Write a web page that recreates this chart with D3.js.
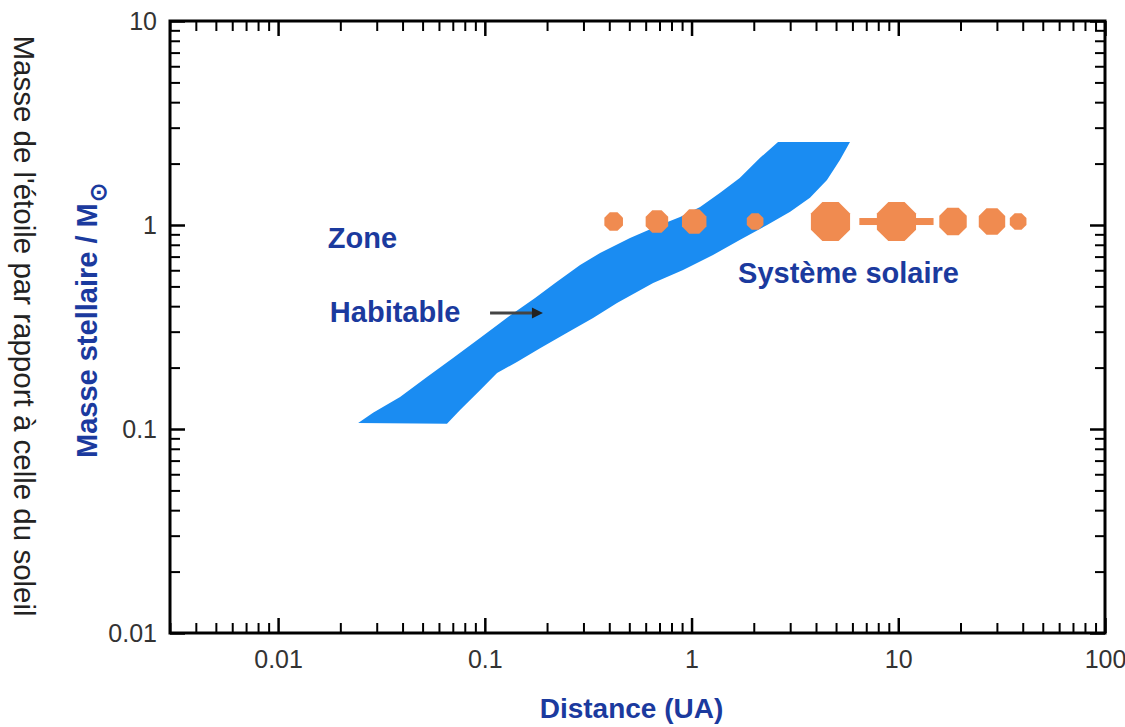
<!DOCTYPE html>
<html><head><meta charset="utf-8">
<script src="https://cdn.jsdelivr.net/npm/d3@7"></script>
<style>body{margin:0;background:#fff}</style>
</head><body><svg id="c" width="1125" height="727"></svg>
<script>
// ---- data ----
const xMajor = [0.01, 0.1, 1, 10, 100];
const xTickLabels = ["0.01", "0.1", "1", "10", "100"];
const yMajor = [0.01, 0.1, 1, 10];
const yTickLabels = ["0.01", "0.1", "1", "10"];

const planetNames = ["Mercure", "Vénus", "Terre", "Mars", "Jupiter", "Saturne", "Uranus", "Neptune", "Pluton"];
const planetDist = [0.42, 0.68, 1.03, 2.03, 4.7, 9.8, 18.4, 28.4, 38];
const planetMass = [1.04, 1.04, 1.04, 1.04, 1.04, 1.04, 1.04, 1.04, 1.04];
const planetSize = [19, 23, 25, 17, 40, 40, 28, 27, 17];

// habitable zone: inner (upper-left) boundary, bottom to top
const hzInnerDist = [0.0244, 0.0288, 0.0389, 0.0525, 0.0702, 0.0948, 0.1185, 0.140, 0.175, 0.219, 0.289, 0.361, 0.504, 0.704, 0.880, 1.10, 1.37, 1.71, 2.14, 2.62];
const hzInnerMass = [0.107, 0.120, 0.1435, 0.180, 0.223, 0.279, 0.331, 0.375, 0.439, 0.520, 0.637, 0.729, 0.864, 1.0, 1.094, 1.225, 1.435, 1.70, 2.13, 2.55];
// outer (lower-right) boundary, top to bottom
const hzOuterDist = [5.84, 5.22, 4.52, 3.74, 3.00, 2.32, 1.71, 1.27, 0.91, 0.652, 0.436, 0.334, 0.250, 0.185, 0.143, 0.1146, 0.0948, 0.0759, 0.0656];
const hzOuterMass = [2.55, 2.08, 1.66, 1.36, 1.16, 1.0, 0.845, 0.713, 0.601, 0.520, 0.415, 0.350, 0.296, 0.249, 0.213, 0.188, 0.155, 0.124, 0.106];

// annotations (data coordinates)
const labelTexts = ["Zone", "Habitable", "Système solaire"];
const labelDist = [0.0174, 0.0178, 1.68];
const labelMass = [0.771, 0.335, 0.52];
const arrowDist = [0.106, 0.191];
const arrowMass = [0.37, 0.37];

const xTitle = "Distance (UA)";
const yTitle1 = "Masse de l'étoile par rapport à celle du soleil";
const yTitle2 = "Masse stellaire / M";
const sunSymbol = "⊙";

// ---- layout ----
const L = 170, R = 1105, T = 21, B = 633;
const svg = d3.select("#c");
const x = d3.scaleLog().domain([0.003, 100]).range([L, R]);
const y = d3.scaleLog().domain([0.01, 10]).range([B, T]);

const minor = (lo, hi) => {
  const out = [];
  for (let e = Math.floor(Math.log10(lo)); e < Math.ceil(Math.log10(hi)); e++)
    for (let k = 2; k <= 9; k++) { const v = k * Math.pow(10, e); if (v >= lo && v <= hi) out.push(v); }
  return out;
};
const xMinor = minor(0.003, 100);
const yMinor = minor(0.01, 10);

const blue = "#1b3a9e", band = "#1a8cf2", orange = "#f08b50";
const font = "Liberation Sans, Arial, sans-serif";

// habitable zone
const hzPts = hzInnerDist.map((d, i) => [d, hzInnerMass[i]])
  .concat(hzOuterDist.map((d, i) => [d, hzOuterMass[i]]));
svg.append("path")
  .attr("d", d3.line().x(p => x(p[0])).y(p => y(p[1])).curve(d3.curveLinearClosed)(hzPts))
  .attr("fill", band);

// planets
const octagon = (cx, cy, r) => d3.line()(d3.range(8).map(k => {
  const a = (22.5 + 45 * k) * Math.PI / 180;
  return [cx + r * Math.cos(a), cy + r * Math.sin(a)];
})) + "Z";
const g = svg.append("g");
planetDist.forEach((d, i) => {
  const r = planetSize[i] / 2 * 1.06;
  if (planetNames[i] === "Saturne") {
    g.append("rect").attr("x", x(d) - r * 1.75).attr("y", y(planetMass[i]) - 3.5)
      .attr("width", r * 3.5).attr("height", 7).attr("fill", orange);
  }
  g.append("path").attr("d", octagon(x(d), y(planetMass[i]), r)).attr("fill", orange);
});

// axes
const axStyle = (sel, w) => { sel.select(".domain").remove(); sel.selectAll("line").attr("stroke", "#000").attr("stroke-width", w); };
const fmtX = d => xTickLabels[xMajor.indexOf(d)];
const fmtY = d => yTickLabels[yMajor.indexOf(d)];

svg.append("g").attr("transform", `translate(0,${B})`)
  .call(d3.axisBottom(x).tickValues(xMajor).tickSize(-15).tickPadding(17).tickFormat(fmtX))
  .call(s => axStyle(s, 2.5));
svg.append("g").attr("transform", `translate(0,${B})`)
  .call(d3.axisBottom(x).tickValues(xMinor).tickSize(-10).tickFormat(""))
  .call(s => axStyle(s, 2));
svg.append("g").attr("transform", `translate(0,${T})`)
  .call(d3.axisTop(x).tickValues(xMajor).tickSize(-15).tickFormat(""))
  .call(s => axStyle(s, 2.5));
svg.append("g").attr("transform", `translate(0,${T})`)
  .call(d3.axisTop(x).tickValues(xMinor).tickSize(-10).tickFormat(""))
  .call(s => axStyle(s, 2));
svg.append("g").attr("transform", `translate(${L},0)`)
  .call(d3.axisLeft(y).tickValues(yMajor).tickSize(-15).tickPadding(13).tickFormat(fmtY))
  .call(s => axStyle(s, 2.5));
svg.append("g").attr("transform", `translate(${L},0)`)
  .call(d3.axisLeft(y).tickValues(yMinor).tickSize(-10).tickFormat(""))
  .call(s => axStyle(s, 2));
svg.append("g").attr("transform", `translate(${R},0)`)
  .call(d3.axisRight(y).tickValues(yMajor).tickSize(-15).tickFormat(""))
  .call(s => axStyle(s, 2.5));
svg.append("g").attr("transform", `translate(${R},0)`)
  .call(d3.axisRight(y).tickValues(yMinor).tickSize(-10).tickFormat(""))
  .call(s => axStyle(s, 2));

svg.selectAll(".tick text").attr("font-family", font)
  .attr("font-size", 25).attr("fill", "#333");

// frame
svg.append("rect").attr("x", L).attr("y", T).attr("width", R - L).attr("height", B - T)
  .attr("fill", "none").attr("stroke", "#000").attr("stroke-width", 3);

// annotations
labelTexts.forEach((t, i) => {
  svg.append("text").attr("x", x(labelDist[i])).attr("y", y(labelMass[i]))
    .attr("font-family", font).attr("font-weight", "bold")
    .attr("font-size", 29).attr("fill", blue).text(t);
});
const ax0 = x(arrowDist[0]), ax1 = x(arrowDist[1]), ay = y(arrowMass[0]);
svg.append("line").attr("x1", ax0).attr("x2", ax1 - 8).attr("y1", ay).attr("y2", ay)
  .attr("stroke", "#444").attr("stroke-width", 3);
svg.append("path").attr("d", `M${ax1},${ay}L${ax1 - 11},${ay - 5.5}L${ax1 - 11},${ay + 5.5}Z`).attr("fill", "#222");

// titles
svg.append("text").attr("x", (L + R) / 2 - 6).attr("y", 718).attr("text-anchor", "middle")
  .attr("font-family", font).attr("font-weight", "bold")
  .attr("font-size", 28).attr("fill", blue).text(xTitle);

svg.append("text").attr("transform", "translate(14,326) rotate(90)").attr("text-anchor", "middle")
  .attr("font-family", font).attr("font-size", 29.5)
  .attr("fill", "#222").text(yTitle1);

const t2 = svg.append("text").attr("transform", "translate(97,458) rotate(-90)")
  .attr("font-family", font).attr("font-weight", "bold")
  .attr("font-size", 29).attr("fill", blue);
t2.append("tspan").text(yTitle2);
t2.append("tspan").attr("dy", 9).attr("dx", 1).attr("font-size", 23).text(sunSymbol);
</script></body></html>
